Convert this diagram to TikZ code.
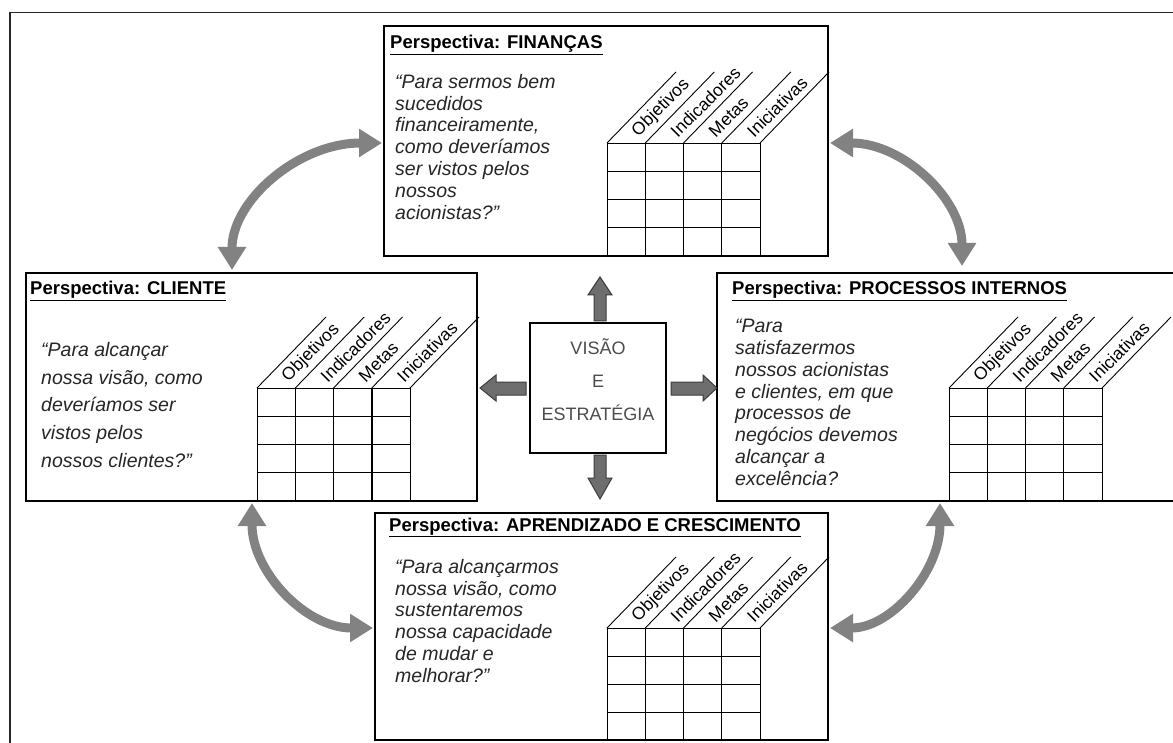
\documentclass[tikz,border=0pt]{standalone}
\usepackage{fontspec}
\setmainfont{Liberation Sans}
\usetikzlibrary{arrows.meta}
\definecolor{arrgray}{HTML}{828282}
\definecolor{blockfill}{HTML}{6E6E6E}
\definecolor{blockline}{HTML}{3C3C3C}
\newcommand\bsctable[4]{%
  \foreach \i in {0,...,4}{%
    \draw[gridline] (#2+\i*38.25,#3) -- (#2+\i*38.25,#4);
    \draw[gridline] (#2+\i*38.25,#3) -- ++(69,-71);
  }
  \foreach \j in {0,1,2,3}{\draw[gridline] (#2,{#3+\j*(#4-#3)/4}) -- (#2+153,{#3+\j*(#4-#3)/4});}
  \node[collab] (#1-obj) at (#2+19.1+9,#3-9) {Objetivos};
  \node[collab] (#1-ind) at (#2+57.4+9,#3-9) {Indicadores};
  \node[collab] (#1-met) at (#2+95.6+9,#3-9) {Metas};
  \node[collab] (#1-ini) at (#2+133.9+9,#3-9) {Iniciativas};
}
\begin{document}
\begin{tikzpicture}[x=1pt,y=-1pt,
  persbox/.style={draw=black, line width=1.3pt, fill=white, anchor=north west, inner sep=0pt, outer sep=0pt},
  ptitle/.style={anchor=base west, inner sep=0pt, font=\fontsize{18.5}{22}\selectfont\bfseries},
  quote/.style={anchor=north west, inner sep=0pt, align=left, text=black!85, font=\fontsize{19.5}{21.8}\selectfont\itshape},
  collab/.style={anchor=west, rotate=45, inner sep=0pt, font=\fontsize{17.5}{18}\selectfont},
  gridline/.style={draw=black, line width=0.9pt},
  bendarrow/.style={draw=arrgray, line width=9pt, {Triangle[length=23pt,width=27pt]}-{Triangle[length=23pt,width=27pt]}},
  blockarrow/.style={fill=blockfill, draw=blockline, line width=1pt, line join=miter}
]
\useasboundingbox (0,0) rectangle (1173,743);
% outer frame (cropped)
\coordinate (frameA) at (10,760);
\coordinate (frameB) at (10,12.5);
\coordinate (frameC) at (1190,12.5);
\draw[line width=1.5pt, black!85] (frameA) -- (frameB) -- (frameC);

% boxes
\node[persbox, minimum width=444pt, minimum height=230pt] (fin) at (384,26) {};
\node[persbox, minimum width=451pt, minimum height=228pt] (cli) at (26,273) {};
\node[persbox, minimum width=459pt, minimum height=228pt] (proc) at (717,273) {};
\node[persbox, minimum width=453pt, minimum height=227pt] (apr) at (375,513) {};
\node[persbox, minimum width=136pt, minimum height=130pt] (vis) at (530,323) {};

% titles
\node[ptitle] (fint) at (390,49) {\underline{Perspectiva: FINANÇAS}};
\node[ptitle] (clit) at (30,295) {\underline{Perspectiva: CLIENTE}};
\node[ptitle] (proct) at (732,295) {\underline{Perspectiva: PROCESSOS INTERNOS}};
\node[ptitle] (aprt) at (389,531) {\underline{Perspectiva: APRENDIZADO E CRESCIMENTO}};

% quotes
\node[quote] (finq) at (395,74) {“Para sermos bem\\sucedidos\\financeiramente,\\como deveríamos\\ser vistos pelos\\nossos\\acionistas?”};
\node[quote, font=\fontsize{19.5}{27.8}\selectfont\itshape] (cliq) at (41,342) {“Para alcançar\\nossa visão, como\\deveríamos ser\\vistos pelos\\nossos clientes?”};
\node[quote] (procq) at (735,319) {“Para\\satisfazermos\\nossos acionistas\\e clientes, em que\\processos de\\negócios devemos\\alcançar a\\excelência?};
\node[quote] (aprq) at (395,559) {“Para alcançarmos\\nossa visão, como\\sustentaremos\\nossa capacidade\\de mudar e\\melhorar?”};

% tables
\bsctable{fintab}{607}{143}{256}
\bsctable{clitab}{257}{388}{501}
\draw[line width=1.8pt] (371.75,388) -- (371.75,501);
\bsctable{proctab}{949}{388}{501}
\bsctable{aprtab}{607}{628}{740}

% centre text
\node[font=\fontsize{18}{33}\selectfont, text=black!70, align=center, inner sep=0pt] (vist) at (598,380) {VISÃO\\E\\ESTRATÉGIA};

% block arrows
\draw[blockarrow] (600,277) -- (612,295) -- (606,295) -- (606,321) -- (594,321) -- (594,295) -- (588,295) -- cycle;
\draw[blockarrow] (594,455) -- (606,455) -- (606,478) -- (612,478) -- (600,499) -- (588,478) -- (594,478) -- cycle;
\draw[blockarrow] (480,388) -- (496,375) -- (496,382) -- (526,382) -- (526,395) -- (496,395) -- (496,401) -- cycle;
\draw[blockarrow] (671,382) -- (703,382) -- (703,375) -- (717,388) -- (703,401) -- (703,395) -- (671,395) -- cycle;

% curved double arrows
\coordinate (a1s) at (232,270);
\coordinate (a1e) at (382,143);
\draw[bendarrow] (a1s) .. controls (232,200) and (299,143) .. (a1e);
\coordinate (a2s) at (830,143);
\coordinate (a2e) at (962,266);
\draw[bendarrow] (a2s) .. controls (903,143) and (962,199) .. (a2e);
\coordinate (a3s) at (252,503);
\coordinate (a3e) at (373,628);
\draw[bendarrow] (a3s) .. controls (252,572) and (306,628) .. (a3e);
\coordinate (a4s) at (940,503);
\coordinate (a4e) at (830,628);
\draw[bendarrow] (a4s) .. controls (940,572) and (891,628) .. (a4e);
\end{tikzpicture}
\end{document}
